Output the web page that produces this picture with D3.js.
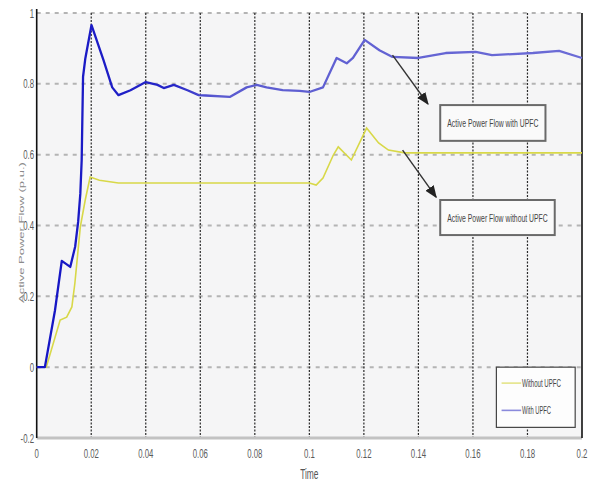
<!DOCTYPE html>
<html>
<head>
<meta charset="utf-8">
<script src="https://cdn.jsdelivr.net/npm/d3@7"></script>
<style>
  body { margin: 0; background: #fff; }
  text { font-family: "Liberation Sans Narrow", "Liberation Sans", Arial, sans-serif; }
</style>
</head>
<body>
<svg id="chart" width="592" height="483"></svg>
<script>
// time axis ticks and value axis ticks
var xTicks = [0, 0.02, 0.04, 0.06, 0.08, 0.1, 0.12, 0.14, 0.16, 0.18, 0.2];
var yTicks = [-0.2, 0, 0.2, 0.4, 0.6, 0.8, 1];

// Active power flow with UPFC (blue)
var withT = [0, 0.003, 0.0067, 0.0092, 0.0123, 0.0141, 0.0152, 0.016, 0.0165, 0.0170, 0.0178, 0.0201,
  0.0245, 0.0277, 0.030, 0.0344, 0.040, 0.0443, 0.0466, 0.0503, 0.0553, 0.0594, 0.062, 0.0708,
  0.077, 0.0807, 0.0843, 0.0902, 0.0964, 0.100, 0.105, 0.110, 0.1137, 0.116, 0.1203, 0.1257,
  0.1305, 0.140, 0.150, 0.161, 0.167, 0.182, 0.1916, 0.200];
var withP = [0, 0, 0.16, 0.30, 0.283, 0.34, 0.41, 0.49, 0.585, 0.82, 0.87, 0.966,
  0.867, 0.79, 0.768, 0.782, 0.805, 0.797, 0.788, 0.797, 0.782, 0.768, 0.767, 0.763,
  0.79, 0.797, 0.79, 0.782, 0.78, 0.777, 0.79, 0.873, 0.858, 0.873, 0.924, 0.895,
  0.876, 0.873, 0.887, 0.89, 0.881, 0.887, 0.893, 0.873];

// Active power flow without UPFC (yellow)
var withoutT = [0, 0.0035, 0.0086, 0.011, 0.0129, 0.014, 0.016, 0.0178, 0.0196, 0.023, 0.030,
  0.100, 0.1025, 0.105, 0.1088, 0.1106, 0.1154, 0.121, 0.1254, 0.129, 0.135, 0.200];
var withoutP = [0, 0, 0.133, 0.141, 0.17, 0.237, 0.396, 0.472, 0.537, 0.528, 0.52,
  0.52, 0.514, 0.534, 0.599, 0.622, 0.585, 0.675, 0.633, 0.613, 0.605, 0.605];

var legendLabels = ["Without UPFC", "With UPFC"];
var noteLabels = ["Active Power Flow with UPFC", "Active Power Flow without UPFC"];

var svg = d3.select("#chart");

var x = d3.scaleLinear().domain([0, 0.2]).range([36.7, 582]);
var y = d3.scaleLinear().domain([-0.2, 1]).range([438, 13]);

// squeeze a text horizontally so it spans a given width (scan has tall, narrow glyphs)
function squeeze(sel, width, anchorX, baseY) {
  sel.each(function(d, i) {
    var w = typeof width === "function" ? width(d, i) : width;
    var len = this.getComputedTextLength();
    var cx = typeof anchorX === "function" ? anchorX(d, i) : anchorX;
    var cy = typeof baseY === "function" ? baseY(d, i) : baseY;
    d3.select(this).attr("transform", "translate(" + cx + "," + cy + ") scale(" + (w / len) + ",1)");
  });
}

// plot background
svg.append("rect")
    .attr("x", x(0)).attr("y", y(1))
    .attr("width", x(0.2) - x(0)).attr("height", y(-0.2) - y(1))
    .attr("fill", "#f5f5f6");

// horizontal grid
svg.append("g").selectAll("line")
  .data(yTicks.filter(function(d) { return d > -0.2; }))
  .enter().append("line")
    .attr("x1", x(0)).attr("x2", x(0.2))
    .attr("y1", y).attr("y2", y)
    .attr("stroke", "#b4b4b4")
    .attr("stroke-width", 2)
    .attr("stroke-dasharray", "4,5");

// vertical grid
svg.append("g").selectAll("line")
  .data(xTicks.filter(function(d) { return d > 0 && d < 0.2; }))
  .enter().append("line")
    .attr("x1", x).attr("x2", x)
    .attr("y1", y(1)).attr("y2", y(-0.2))
    .attr("stroke", "#2a2a2a")
    .attr("stroke-width", 1.2)
    .attr("stroke-dasharray", "2,1.5");

// frame
svg.append("line")
    .attr("x1", x(0)).attr("x2", x(0.2))
    .attr("y1", y(-0.2)).attr("y2", y(-0.2))
    .attr("stroke", "#c2c2c2").attr("stroke-width", 3);
svg.append("line")
    .attr("x1", x(0)).attr("x2", x(0))
    .attr("y1", y(1) - 4).attr("y2", y(-0.2))
    .attr("stroke", "#111").attr("stroke-width", 1.6);
svg.append("line")
    .attr("x1", x(0.2)).attr("x2", x(0.2))
    .attr("y1", y(1)).attr("y2", y(-0.2))
    .attr("stroke", "#111").attr("stroke-width", 1.6);

// blue gets lighter after the first transient, as in the scan
var grad = svg.append("defs").append("linearGradient")
    .attr("id", "blueGrad")
    .attr("gradientUnits", "userSpaceOnUse")
    .attr("x1", x(0)).attr("x2", x(0.2)).attr("y1", 0).attr("y2", 0);
grad.append("stop").attr("offset", "0").attr("stop-color", "#1414c4");
grad.append("stop").attr("offset", "0.25").attr("stop-color", "#2626c8");
grad.append("stop").attr("offset", "0.33").attr("stop-color", "#5a5ad0");
grad.append("stop").attr("offset", "1").attr("stop-color", "#6c6cd6");

var line = d3.line()
    .x(function(d) { return x(d[0]); })
    .y(function(d) { return y(d[1]); });

svg.append("path")
    .datum(d3.zip(withoutT, withoutP))
    .attr("d", line)
    .attr("fill", "none")
    .attr("stroke", "#d8d848")
    .attr("stroke-width", 1.6);

svg.append("path")
    .datum(d3.zip(withT, withP))
    .attr("d", line)
    .attr("fill", "none")
    .attr("stroke", "url(#blueGrad)")
    .attr("stroke-width", 2.3)
    .attr("stroke-linejoin", "round");

// tick labels
svg.append("g").selectAll("text")
  .data(xTicks)
  .enter().append("text")
    .attr("transform", function(d) { return "translate(" + x(d) + ",458) scale(0.6,1)"; })
    .attr("text-anchor", "middle")
    .attr("font-size", 13)
    .attr("fill", "#5a5a5a")
    .text(function(d) { return +d.toFixed(2); });

svg.append("g").selectAll("text")
  .data(yTicks)
  .enter().append("text")
    .attr("transform", function(d) { return "translate(34," + (y(d) + 4.5) + ") scale(0.6,1)"; })
    .attr("text-anchor", "end")
    .attr("font-size", 13)
    .attr("fill", "#5a5a5a")
    .text(function(d) { return +d.toFixed(1); });

// axis titles
svg.append("text")
    .attr("transform", "translate(" + x(0.1) + ",479) scale(0.6,1)")
    .attr("text-anchor", "middle")
    .attr("font-size", 14)
    .attr("fill", "#555")
    .text("Time");

svg.append("text")
    .attr("transform", "translate(24," + y(0.38) + ") rotate(-90) scale(1,0.6)")
    .attr("text-anchor", "middle")
    .attr("font-size", 13)
    .attr("fill", "#8a8a8a")
    .text("Active Power Flow (p.u.)");

// annotations
var notes = [
  {label: noteLabels[0], t0: 0.148, t1: 0.1866, v0: 0.740, v1: 0.639, from: [0.1305, 0.881], to: [0.1435, 0.743]},
  {label: noteLabels[1], t0: 0.148, t1: 0.190, v0: 0.472, v1: 0.373, from: [0.1342, 0.613], to: [0.1465, 0.480]}
];

svg.append("defs").append("marker")
    .attr("id", "head")
    .attr("viewBox", "0 0 10 10")
    .attr("refX", 9).attr("refY", 5)
    .attr("markerWidth", 9).attr("markerHeight", 9)
    .attr("orient", "auto")
  .append("path")
    .attr("d", "M0,1 L10,5 L0,9 z")
    .attr("fill", "#222");

var note = svg.append("g").selectAll("g")
  .data(notes)
  .enter().append("g");

note.append("line")
    .attr("x1", function(d) { return x(d.from[0]); })
    .attr("y1", function(d) { return y(d.from[1]); })
    .attr("x2", function(d) { return x(d.to[0]); })
    .attr("y2", function(d) { return y(d.to[1]); })
    .attr("stroke", "#333")
    .attr("stroke-width", 1.4)
    .attr("marker-end", "url(#head)");

note.append("rect")
    .attr("x", function(d) { return x(d.t0); })
    .attr("y", function(d) { return y(d.v0); })
    .attr("width", function(d) { return x(d.t1) - x(d.t0); })
    .attr("height", function(d) { return y(d.v1) - y(d.v0); })
    .attr("fill", "#fafafa")
    .attr("stroke", "#6a6a6a")
    .attr("stroke-width", 2);

note.append("text")
    .attr("text-anchor", "middle")
    .attr("font-size", 11)
    .attr("fill", "#444")
    .text(function(d) { return d.label; })
    .call(squeeze,
      function(d) { return (x(d.t1) - x(d.t0)) - 14; },
      function(d) { return (x(d.t0) + x(d.t1)) / 2; },
      function(d) { return (y(d.v0) + y(d.v1)) / 2 + 4; });

// legend
var lg = svg.append("g");
lg.append("rect")
    .attr("x", x(0.1686)).attr("y", y(0))
    .attr("width", x(0.1975) - x(0.1686)).attr("height", y(-0.17) - y(0))
    .attr("fill", "#fdfdfd")
    .attr("stroke", "#444")
    .attr("stroke-width", 1.2);

var legendColors = ["#e4e488", "#8a8adc"];
var legendY = [-0.045, -0.122];

var item = lg.selectAll("g.item")
  .data(legendLabels)
  .enter().append("g").attr("class", "item");

item.append("line")
    .attr("x1", x(0.1705)).attr("x2", x(0.1777))
    .attr("y1", function(d, i) { return y(legendY[i]); })
    .attr("y2", function(d, i) { return y(legendY[i]); })
    .attr("stroke", function(d, i) { return legendColors[i]; })
    .attr("stroke-width", 1.6);

item.append("text")
    .attr("font-size", 11)
    .attr("fill", "#444")
    .text(function(d) { return d; })
    .call(squeeze,
      function(d, i) { return i === 0 ? 39 : 29; },
      x(0.178),
      function(d, i) { return y(legendY[i]) + 4; });
</script>
</body>
</html>
